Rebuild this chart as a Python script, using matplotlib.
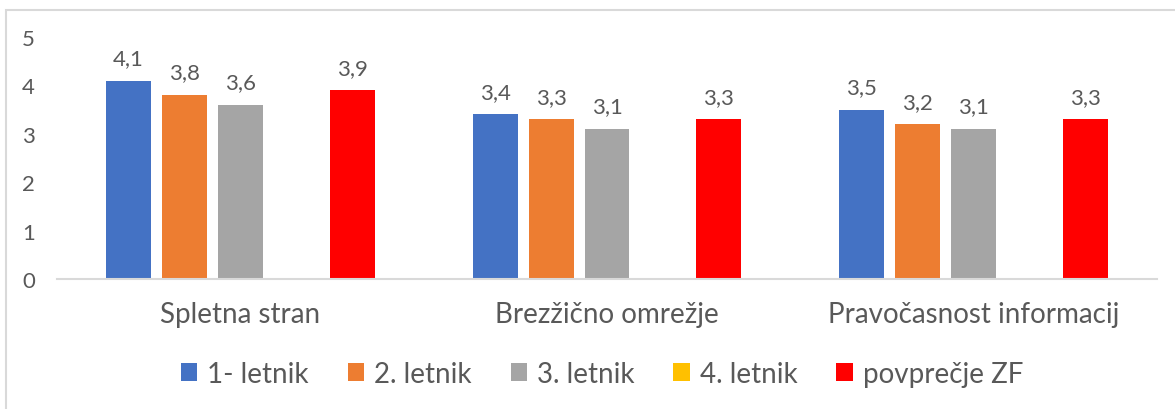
import numpy as np
import matplotlib.pyplot as plt
from matplotlib.patches import Rectangle

plt.rcParams['font.family'] = ['Lato', 'DejaVu Sans']

# Podatki
categories = ["Spletna stran", "Brezžično omrežje", "Pravočasnost informacij"]
series_names = ["1- letnik", "2. letnik", "3. letnik", "4. letnik", "povprečje ZF"]
letnik1 = [4.1, 3.4, 3.5]
letnik2 = [3.8, 3.3, 3.2]
letnik3 = [3.6, 3.1, 3.1]
letnik4 = [np.nan, np.nan, np.nan]  # ni podatkov
povprecje = [3.9, 3.3, 3.3]
colors = ["#4472C4", "#ED7D31", "#A5A5A5", "#FFC000", "#FF0000"]

text_col = "#595959"

fig = plt.figure(figsize=(11.75, 4.1), dpi=100)
ax = fig.add_axes([57/1175, 130/410, 1100/1175, 242/410])

# okvir grafa (desni in spodnji rob odrezan)
fig.patches.append(Rectangle((6/1175, -0.2), 1.3, 1.2 - 11/410,
                             transform=fig.transFigure, fill=False,
                             edgecolor="#D9D9D9", linewidth=1.5))

x = np.arange(len(categories))
slot = 56/367
width = 45/367
all_series = [letnik1, letnik2, letnik3, letnik4, povprecje]
for i, (vals, name, c) in enumerate(zip(all_series, series_names, colors)):
    offs = (i - 2) * slot
    bars = ax.bar(x + offs, vals, width, color=c, label=name)
    labels = ["" if np.isnan(v) else f"{v:.1f}".replace(".", ",") for v in vals]
    ax.bar_label(bars, labels=labels, padding=9, fontsize=16, color=text_col)

ax.set_xlim(-0.5, 2.5)
ax.set_ylim(0, 5)
ax.set_yticks(range(0, 6))
ax.set_xticks(x)
ax.set_xticklabels(categories, fontsize=20, color=text_col)
ax.tick_params(axis="x", length=0, pad=16)
ax.tick_params(axis="y", length=0, pad=16, labelsize=16, labelcolor=text_col)

for s in ["top", "right", "left"]:
    ax.spines[s].set_visible(False)
ax.spines["bottom"].set_color("#D9D9D9")
ax.spines["bottom"].set_linewidth(1.5)

leg = fig.legend(loc="center", bbox_to_anchor=(602/1175, 35/410), ncol=5, frameon=False,
                 fontsize=20, handlelength=0.6, handleheight=0.6,
                 handletextpad=0.35, columnspacing=1.4)
for t in leg.get_texts():
    t.set_color(text_col)

fig.savefig("out.png", dpi=100)
